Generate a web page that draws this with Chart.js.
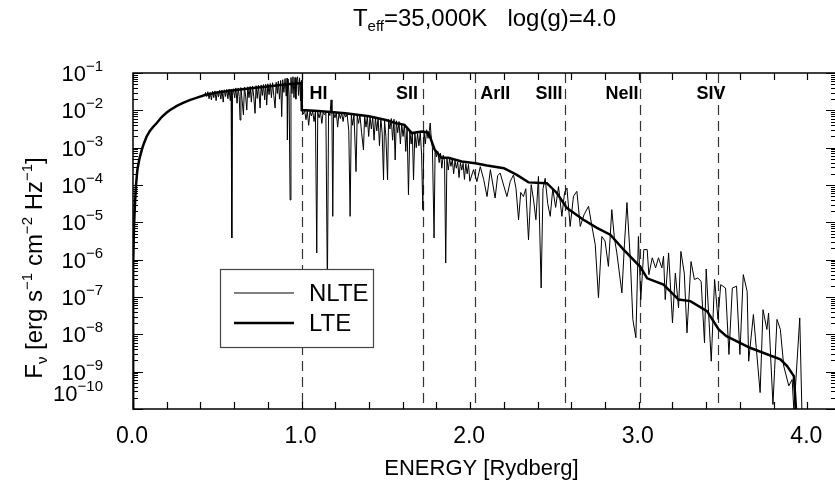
<!DOCTYPE html>
<html>
<head>
<meta charset="utf-8">
<script src="https://cdn.jsdelivr.net/npm/chart.js@4.4.1/dist/chart.umd.min.js"></script>
<style>
  html, body { margin: 0; padding: 0; background: #fff; overflow: hidden; }
  #wrap { position: absolute; left: 0; top: 0; width: 838px; height: 483px; }
</style>
</head>
<body>
<div id="wrap"><canvas id="sed" width="838" height="483"></canvas></div>
<script>
// [energy in Rydberg, log10 flux]
const nlteSpectrum = [
  [0.00001,-10.5],[0.0001,-8.6],[0.0005,-7.2],[0.002,-6.19],[0.006,-5.1],[0.012,-4.48],[0.018,-4.0],[0.026,-3.59],
  [0.038,-3.30],[0.052,-3.06],[0.065,-2.88],[0.081,-2.70],[0.10,-2.55],[0.12,-2.44],[0.141,-2.34],[0.17,-2.18],
  [0.20,-2.06],[0.22,-1.99],[0.26,-1.88],[0.297,-1.80],[0.34,-1.72],[0.38,-1.66],[0.41,-1.62],[0.427,-1.59],
  [0.430,-1.52],[0.437,-1.63],[0.444,-1.50],[0.451,-1.69],[0.458,-1.52],[0.465,-1.72],[0.472,-1.49],[0.479,-1.66],
  [0.486,-1.48],[0.493,-1.74],[0.500,-1.49],[0.507,-1.64],[0.514,-1.46],[0.521,-1.70],[0.528,-1.46],[0.535,-1.78],
  [0.542,-1.45],[0.549,-1.63],[0.556,-1.44],[0.563,-1.69],[0.570,-1.43],[0.577,-1.74],[0.582,-1.44],[0.586,-5.42],
  [0.590,-1.60],[0.596,-1.42],[0.603,-1.67],[0.610,-1.40],[0.617,-1.81],[0.624,-1.40],[0.630,-1.63],[0.635,-2.26],
  [0.640,-1.39],[0.647,-1.72],[0.655,-2.12],[0.661,-1.38],[0.668,-1.62],[0.675,-1.99],[0.681,-1.37],[0.688,-1.66],
  [0.695,-1.36],[0.702,-1.78],[0.709,-1.35],[0.716,-1.62],[0.724,-2.08],[0.730,-1.34],[0.737,-1.68],[0.744,-1.33],
  [0.754,-1.94],[0.760,-1.32],[0.767,-1.60],[0.774,-1.31],[0.781,-1.72],[0.787,-1.30],[0.793,-1.86],[0.800,-1.29],
  [0.807,-1.58],[0.814,-1.28],[0.821,-1.66],[0.828,-1.26],[0.835,-1.60],[0.843,-1.94],[0.849,-1.25],[0.856,-1.55],
  [0.862,-1.22],[0.869,-1.70],[0.876,-1.20],[0.882,-2.17],[0.888,-1.18],[0.895,-1.52],[0.902,-1.15],[0.909,-1.62],
  [0.914,-1.14],[0.916,-2.79],[0.920,-1.16],[0.926,-1.58],[0.932,-4.40],[0.937,-1.12],[0.943,-1.55],[0.949,-1.10],
  [0.955,-1.66],[0.961,-1.12],[0.966,-1.70],[0.971,-1.19],[0.976,-1.10],[0.982,-1.60],[0.988,-1.13],[0.994,-1.75],
  [0.999,-1.20],[1.002,-2.00],[1.010,-2.10],[1.018,-2.00],[1.026,-2.25],[1.034,-2.02],[1.042,-2.40],[1.050,-2.03],
  [1.058,-2.15],[1.066,-2.02],[1.074,-2.30],[1.082,-2.04],[1.090,-5.82],[1.096,-2.05],[1.104,-2.20],[1.112,-2.03],
  [1.120,-2.35],[1.128,-2.05],[1.136,-2.12],[1.144,-2.06],[1.153,-6.80],[1.160,-2.05],[1.168,-2.14],[1.175,-1.72],
  [1.180,-2.08],[1.185,-4.84],[1.190,-2.07],[1.198,-2.20],[1.206,-2.06],[1.214,-2.45],[1.222,-2.08],[1.230,-2.22],
  [1.238,-2.07],[1.246,-2.30],[1.254,-2.09],[1.262,-2.18],[1.270,-2.10],[1.280,-2.55],[1.288,-4.84],[1.295,-2.12],
  [1.303,-2.40],[1.311,-2.11],[1.323,-3.64],[1.330,-2.13],[1.338,-2.35],[1.346,-2.12],[1.356,-2.60],[1.367,-3.06],
  [1.374,-2.14],[1.382,-2.45],[1.390,-2.16],[1.398,-2.70],[1.406,-2.18],[1.414,-2.50],[1.422,-2.18],[1.430,-2.80],
  [1.438,-2.20],[1.446,-2.55],[1.454,-2.20],[1.462,-2.95],[1.470,-2.22],[1.478,-2.60],[1.486,-3.86],[1.492,-2.25],
  [1.500,-2.70],[1.510,-3.86],[1.516,-2.24],[1.524,-2.50],[1.532,-2.22],[1.540,-2.80],[1.548,-2.24],[1.555,-3.33],
  [1.562,-2.28],[1.570,-2.60],[1.578,-2.30],[1.586,-2.90],[1.594,-2.35],[1.602,-2.70],[1.610,-2.38],[1.618,-3.10],
  [1.626,-2.45],[1.634,-4.26],[1.642,-2.55],[1.650,-2.90],[1.657,-2.60],[1.664,-3.86],[1.672,-2.60],[1.680,-3.00],
  [1.688,-2.62],[1.696,-2.95],[1.704,-2.58],[1.712,-3.20],[1.719,-4.66],[1.726,-2.55],[1.734,-2.90],[1.742,-2.52],
  [1.750,-2.75],[1.758,-2.54],[1.763,-2.34],[1.770,-2.80],[1.776,-3.00],[1.786,-5.42],[1.792,-3.05],[1.800,-3.25],
  [1.808,-3.10],[1.816,-3.40],[1.824,-3.15],[1.832,-3.55],[1.840,-3.20],[1.848,-3.35],[1.855,-6.09],[1.862,-3.28],
  [1.870,-3.60],[1.878,-3.30],[1.886,-3.50],[1.894,-3.32],[1.902,-3.70],[1.910,-3.35],[1.918,-3.55],[1.926,-3.38],
  [1.934,-3.80],[1.942,-3.40],[1.950,-3.60],[1.958,-3.42],[1.966,-3.85],[1.974,-3.43],[1.982,-3.70],[1.990,-3.45],
  [1.998,-3.90],[2.020,-3.59],[2.040,-3.91],[2.060,-3.51],[2.080,-3.85],[2.100,-4.31],[2.120,-3.59],[2.148,-4.35],
  [2.163,-3.75],[2.178,-3.68],[2.198,-4.00],[2.218,-4.31],[2.238,-3.90],[2.257,-3.73],[2.272,-4.10],[2.287,-4.93],
  [2.300,-4.20],[2.316,-4.31],[2.330,-4.10],[2.346,-5.47],[2.362,-3.99],[2.376,-4.40],[2.390,-4.93],[2.405,-3.77],
  [2.421,-6.76],[2.432,-4.10],[2.445,-3.82],[2.460,-4.50],[2.475,-4.84],[2.490,-4.10],[2.507,-4.60],[2.524,-4.04],
  [2.544,-4.84],[2.560,-4.20],[2.574,-4.08],[2.593,-5.11],[2.613,-4.30],[2.633,-4.17],[2.653,-5.11],[2.675,-4.80],
  [2.702,-4.57],[2.722,-5.10],[2.742,-5.60],[2.761,-7.02],[2.781,-5.38],[2.800,-5.50],[2.820,-6.18],[2.840,-4.66],
  [2.855,-5.40],[2.870,-5.82],[2.900,-6.89],[2.915,-5.60],[2.930,-4.47],[2.950,-6.00],[2.965,-7.60],[2.983,-8.09],
  [2.998,-5.38],[3.012,-7.07],[3.030,-5.73],[3.050,-5.73],[3.060,-6.40],[3.080,-5.95],[3.100,-6.22],[3.117,-5.95],
  [3.137,-6.22],[3.147,-5.91],[3.157,-7.07],[3.177,-5.82],[3.200,-7.69],[3.217,-6.36],[3.236,-7.29],[3.250,-5.78],
  [3.270,-6.36],[3.286,-7.96],[3.310,-6.05],[3.330,-6.53],[3.350,-6.49],[3.370,-6.58],[3.390,-8.23],[3.400,-6.25],
  [3.430,-8.72],[3.450,-6.53],[3.470,-7.60],[3.486,-6.67],[3.515,-6.76],[3.535,-8.54],[3.555,-6.76],[3.580,-6.71],
  [3.600,-8.54],[3.620,-6.40],[3.643,-6.85],[3.652,-8.72],[3.680,-7.47],[3.697,-8.36],[3.720,-9.56],[3.737,-7.34],
  [3.760,-7.87],[3.770,-7.43],[3.796,-9.88],[3.806,-8.94],[3.820,-7.60],[3.840,-7.87],[3.860,-8.85],[3.890,-9.38],
  [3.910,-9.21],[3.920,-10.04],[3.930,-9.38],[3.955,-7.56],[3.970,-10.5]
];

const lteSpectrum = [
  [0.00001,-10.5],[0.0001,-8.6],[0.0005,-7.2],[0.002,-6.19],[0.006,-5.1],[0.012,-4.48],[0.018,-4.0],[0.026,-3.59],
  [0.038,-3.30],[0.052,-3.06],[0.065,-2.88],[0.081,-2.70],[0.10,-2.55],[0.12,-2.44],[0.141,-2.34],[0.17,-2.18],
  [0.20,-2.06],[0.22,-1.99],[0.26,-1.88],[0.297,-1.80],[0.34,-1.72],[0.38,-1.66],[0.427,-1.59],[0.5,-1.52],
  [0.6,-1.46],[0.7,-1.41],[0.8,-1.36],[0.9,-1.31],[0.999,-1.27],[1.001,-1.99],[1.10,-2.02],[1.26,-2.08],
  [1.40,-2.16],[1.50,-2.26],[1.555,-2.34],[1.61,-2.39],[1.654,-2.61],[1.713,-2.57],[1.753,-2.60],[1.79,-3.06],
  [1.83,-3.27],[1.87,-3.27],[1.95,-3.37],[2.03,-3.42],[2.10,-3.48],[2.20,-3.55],[2.277,-3.73],[2.346,-3.93],
  [2.455,-3.95],[2.515,-4.22],[2.574,-4.62],[2.672,-4.93],[2.752,-5.15],[2.831,-5.33],[2.91,-5.73],[3.01,-6.20],
  [3.05,-6.50],[3.147,-6.67],[3.236,-7.07],[3.306,-7.11],[3.405,-7.38],[3.474,-7.87],[3.52,-8.05],[3.66,-8.36],
  [3.84,-8.67],[3.88,-8.85],[3.92,-9.12],[3.94,-10.5]
];

// ionization edges (Rydberg) marked with dashed lines
const edgeEnergies = [1.0, 1.72, 2.03, 2.56, 3.01, 3.47];
const edgeNames = ["HI", "SII", "ArII", "SIII", "NeII", "SIV"];

const xTickValues = [0, 1, 2, 3, 4];
const xTickLabels = ["0.0", "1.0", "2.0", "3.0", "4.0"];
const yTickExponents = [-1, -2, -3, -4, -5, -6, -7, -8, -9, -10];

const FONT = '"Liberation Sans", Arial, Helvetica, sans-serif';
// how each edge label sits against its line: [align, dx]
const edgeLabelPlace = [["left", 8], ["right", -5], ["left", 5], ["right", -2], ["right", -2], ["center", -7]];

const toPoints = arr => arr.map(p => ({ x: p[0], y: Math.pow(10, p[1]) }));

function drawParts(ctx, parts, x, y, align) {
  let w = 0;
  parts.forEach(p => { ctx.font = p[1] + "px " + FONT; w += ctx.measureText(p[0]).width; });
  let cx = align === "right" ? x - w : align === "center" ? x - w / 2 : x;
  parts.forEach(p => {
    ctx.font = p[1] + "px " + FONT;
    ctx.fillText(p[0], cx, y + p[2]);
    cx += ctx.measureText(p[0]).width;
  });
}

const edgeLines = {
  id: "edgeLines",
  beforeDatasetsDraw(chart) {
    const { ctx, chartArea: a, scales: { x } } = chart;
    ctx.save();
    ctx.strokeStyle = "#333";
    ctx.lineWidth = 1.2;
    ctx.setLineDash([10, 6]);
    edgeEnergies.forEach(e => {
      const px = Math.round(x.getPixelForValue(e)) + 0.5;
      ctx.beginPath();
      ctx.moveTo(px, a.top);
      ctx.lineTo(px, a.bottom);
      ctx.stroke();
    });
    ctx.restore();
  }
};

const frame = {
  id: "frame",
  afterDraw(chart) {
    const { ctx, chartArea: a, scales: { x, y } } = chart;
    ctx.save();
    ctx.fillStyle = "#000";
    ctx.strokeStyle = "#000";
    ctx.textBaseline = "alphabetic";

    // edge labels
    edgeNames.forEach((name, i) => {
      const px = x.getPixelForValue(edgeEnergies[i]);
      ctx.font = "bold 18px " + FONT;
      ctx.textAlign = edgeLabelPlace[i][0];
      ctx.fillText(name, px + edgeLabelPlace[i][1], a.top + 26);
    });
    ctx.textAlign = "left";

    // box
    ctx.lineWidth = 1.5;
    ctx.strokeRect(a.left, a.top, a.right - a.left, a.bottom - a.top);

    // x ticks every 0.2 on bottom and top
    ctx.lineWidth = 1.2;
    for (let v = 0; v <= x.max + 1e-9; v += 0.2) {
      const px = Math.round(x.getPixelForValue(v)) + 0.5;
      ctx.beginPath();
      ctx.moveTo(px, a.bottom); ctx.lineTo(px, a.bottom - 7);
      ctx.moveTo(px, a.top); ctx.lineTo(px, a.top + 7);
      ctx.stroke();
    }
    // y ticks, decades and minor
    yTickExponents.forEach(n => {
      for (let m = 1; m <= 9; m++) {
        const v = m * Math.pow(10, n);
        if (v > y.max * 1.0001) continue;
        const py = Math.round(y.getPixelForValue(v)) + 0.5;
        const len = m === 1 ? 10 : 5;
        ctx.beginPath();
        ctx.moveTo(a.left, py); ctx.lineTo(a.left + len, py);
        ctx.moveTo(a.right, py); ctx.lineTo(a.right - len, py);
        ctx.stroke();
      }
    });

    // x tick labels
    ctx.font = "23px " + FONT;
    ctx.textAlign = "center";
    xTickValues.forEach((v, i) => {
      ctx.fillText(xTickLabels[i], x.getPixelForValue(v) - 1, a.bottom + 34);
    });
    // x title
    ctx.font = "22px " + FONT;
    ctx.fillText("ENERGY [Rydberg]", (a.left + a.right) / 2 - 3, a.bottom + 66);
    ctx.textAlign = "left";

    // y tick labels 10^n
    yTickExponents.forEach(n => {
      const py = Math.min(y.getPixelForValue(Math.pow(10, n)), a.bottom - 16);
      drawParts(ctx, [["10", 22, 0], ["\u2212" + (-n), 15, -10]], 103, py + 8, "right");
    });

    // y title, rotated
    ctx.save();
    ctx.translate(42, (a.top + a.bottom) / 2 + 27);
    ctx.rotate(-Math.PI / 2);
    drawParts(ctx, [["F", 24, 0], ["\u03bd", 15, 5], [" [erg s", 24, 0], ["\u22121", 15, -10],
      [" cm", 24, 0], ["\u22122", 15, -10], [" Hz", 24, 0], ["\u22121", 15, -10], ["]", 24, 0]], 0, 0, "center");
    ctx.restore();

    // title
    drawParts(ctx, [["T", 24, 0], ["eff", 15, 5], ["=35,000K   log(g)=4.0", 24, 0]],
      (a.left + a.right) / 2, 26, "center");

    // legend
    const lx = 220, ly = 269, lw = 153, lh = 78;
    ctx.fillStyle = "#fff";
    ctx.fillRect(lx, ly, lw, lh);
    ctx.strokeStyle = "#444";
    ctx.lineWidth = 1.2;
    ctx.strokeRect(lx + 0.5, ly + 0.5, lw, lh);
    ctx.strokeStyle = "#000";
    ctx.lineWidth = 1;
    ctx.beginPath(); ctx.moveTo(lx + 14, ly + 24); ctx.lineTo(lx + 74, ly + 24); ctx.stroke();
    ctx.lineWidth = 2.4;
    ctx.beginPath(); ctx.moveTo(lx + 14, ly + 54); ctx.lineTo(lx + 74, ly + 54); ctx.stroke();
    ctx.fillStyle = "#000";
    ctx.font = "24px " + FONT;
    ctx.textBaseline = "middle";
    ctx.fillText("NLTE", lx + 89, ly + 25);
    ctx.fillText("LTE", lx + 89, ly + 55);
    ctx.restore();
  }
};

new Chart(document.getElementById("sed"), {
  type: "line",
  data: {
    datasets: [
      { label: "NLTE", data: toPoints(nlteSpectrum), borderColor: "#000", borderWidth: 1.0, pointRadius: 0, tension: 0 },
      { label: "LTE", data: toPoints(lteSpectrum), borderColor: "#000", borderWidth: 2.5, pointRadius: 0, tension: 0 }
    ]
  },
  options: {
    responsive: false,
    devicePixelRatio: 1,
    animation: false,
    layout: { padding: { left: 133, top: 73, right: 2, bottom: 74 } },
    plugins: { legend: { display: false }, tooltip: { enabled: false } },
    scales: {
      x: { type: "linear", min: 0, max: 4.17, display: false },
      y: { type: "logarithmic", min: 1e-10, max: 1e-1, display: false }
    }
  },
  plugins: [edgeLines, frame]
});
</script>
</body>
</html>
